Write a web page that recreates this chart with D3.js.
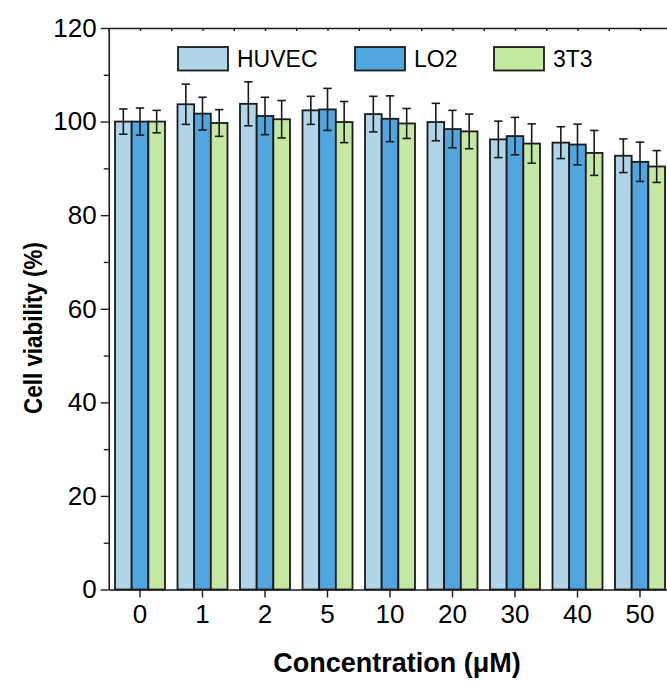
<!DOCTYPE html>
<html>
<head>
<meta charset="utf-8">
<script src="https://cdn.jsdelivr.net/npm/d3@7"></script>
<style>
  body { margin: 0; background: #fff; }
  svg { display: block; font-family: Arial, "Liberation Sans", sans-serif; }
</style>
</head>
<body>
<svg id="chart" width="667" height="681"></svg>
<script>
// data
const concentrations = ["0", "1", "2", "5", "10", "20", "30", "40", "50"];
const seriesNames = ["HUVEC", "LO2", "3T3"];
const huvec = [100, 103.7, 103.8, 102.4, 101.6, 99.9, 96.2, 95.5, 92.7];
const huvecErr = [2.7, 4.3, 4.7, 3.0, 3.8, 4.0, 3.9, 3.4, 3.6];
const lo2 = [100, 101.7, 101.2, 102.6, 100.6, 98.4, 96.9, 95.1, 91.4];
const lo2Err = [2.9, 3.5, 4.0, 4.5, 4.9, 4.0, 4.0, 4.35, 4.2];
const t3t3 = [100, 99.7, 100.5, 99.9, 99.6, 97.9, 95.3, 93.3, 90.4];
const t3t3Err = [2.4, 2.85, 4.0, 4.4, 3.2, 3.7, 4.2, 4.8, 3.4];
const yTicks = [0, 20, 40, 60, 80, 100, 120];
const colors = ["#b0d4e8", "#52a6df", "#c4e7a2"];

const values = [huvec, lo2, t3t3];
const errors = [huvecErr, lo2Err, t3t3Err];
const ink = "#1a1a1a";

const svg = d3.select("#chart");
const margin = {top: 28, left: 108.75};
const plotW = 562.5;   // right frame is cut off by the picture edge
const plotH = 561.5;

const g = svg.append("g")
  .attr("transform", `translate(${margin.left}, ${margin.top})`);

const x = d3.scaleBand()
  .domain(concentrations)
  .range([0, plotW])
  .paddingInner(0.2)
  .paddingOuter(0.1);

const xSub = d3.scaleBand()
  .domain(seriesNames)
  .range([0, x.bandwidth()]);

const y = d3.scaleLinear().domain([0, 120]).range([plotH, 0]);

// bars
const groups = g.selectAll(".grp")
  .data(concentrations)
  .join("g")
  .attr("class", "grp")
  .attr("transform", (d) => `translate(${x(d)}, 0)`);

seriesNames.forEach((s, si) => {
  groups.append("rect")
    .attr("x", xSub(s))
    .attr("width", xSub.bandwidth())
    .attr("y", (d, i) => y(values[si][i]))
    .attr("height", (d, i) => plotH - y(values[si][i]))
    .attr("fill", colors[si])
    .attr("stroke", ink)
    .attr("stroke-width", 1.8);
});

// error bars
seriesNames.forEach((s, si) => {
  const cx = xSub(s) + xSub.bandwidth() / 2;
  const eb = groups.append("g")
    .attr("stroke", ink)
    .attr("stroke-width", 1.6);
  eb.append("line")
    .attr("x1", cx).attr("x2", cx)
    .attr("y1", (d, i) => y(values[si][i] + errors[si][i]))
    .attr("y2", (d, i) => y(values[si][i] - errors[si][i]));
  [1, -1].forEach((sign) => {
    eb.append("line")
      .attr("x1", cx - 4.2).attr("x2", cx + 4.2)
      .attr("y1", (d, i) => y(values[si][i] + sign * errors[si][i]))
      .attr("y2", (d, i) => y(values[si][i] + sign * errors[si][i]));
  });
});

// axes
const styleAxis = (sel) => {
  sel.select(".domain").attr("stroke", ink).attr("stroke-width", 1.6);
  sel.selectAll(".tick line").attr("stroke", ink).attr("stroke-width", 1.4);
  sel.selectAll(".tick text").attr("fill", "#000").style("font-size", "26px");
};

g.append("g")
  .call(d3.axisLeft(y).tickValues(d3.range(10, 120, 20)).tickSize(5).tickFormat(""))
  .call(styleAxis)
  .select(".domain").remove();

g.append("g")
  .call(d3.axisLeft(y).tickValues(yTicks).tickSize(8).tickPadding(4).tickSizeOuter(0))
  .call(styleAxis);

g.append("g")
  .attr("transform", `translate(0, ${plotH})`)
  .call(d3.axisBottom(x).tickSize(8).tickPadding(7).tickSizeOuter(0))
  .call(styleAxis);

// top frame with small inward ticks at centres and group boundaries
const xIdx = d3.scaleLinear().domain([-0.5, concentrations.length - 0.5]).range([0, plotW]);
g.append("g")
  .call(d3.axisTop(xIdx).tickValues(d3.range(-0.5, concentrations.length, 0.5))
    .tickSize(-3).tickSizeOuter(0).tickFormat(""))
  .call(styleAxis);

// axis titles
svg.append("text")
  .attr("transform", "translate(42, 328) rotate(-90) scale(0.88, 1)")
  .attr("text-anchor", "middle")
  .attr("font-weight", "bold")
  .attr("font-size", 25.5)
  .text("Cell viability (%)");

svg.append("text")
  .attr("x", 397)
  .attr("y", 672)
  .attr("text-anchor", "middle")
  .attr("font-weight", "bold")
  .attr("font-size", 27)
  .text("Concentration (\u03bcM)");

// legend
const legendX = [178, 355, 494];
const legend = svg.selectAll(".lg")
  .data(seriesNames)
  .join("g")
  .attr("class", "lg")
  .attr("transform", (d, i) => `translate(${legendX[i]}, 47)`);

legend.append("rect")
  .attr("width", 50).attr("height", 23.5)
  .attr("fill", (d, i) => colors[i])
  .attr("stroke", ink)
  .attr("stroke-width", 1.8);

legend.append("text")
  .attr("x", 59)
  .attr("y", 20)
  .attr("font-size", 23)
  .text((d) => d);
</script>
</body>
</html>
